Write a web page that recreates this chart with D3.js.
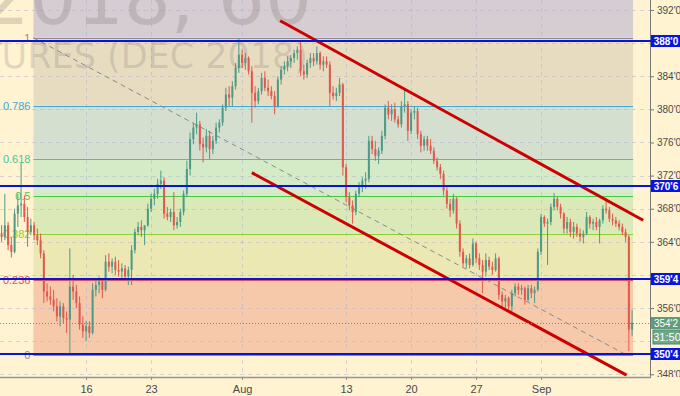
<!DOCTYPE html>
<html>
<head>
<meta charset="utf-8">
<script src="https://cdn.jsdelivr.net/npm/d3@7"></script>
<style>
  body { margin: 0; background: #fff3d2; }
  svg { display: block; font-family: "Liberation Sans", Arial, sans-serif; }
</style>
</head>
<body>
<svg id="chart"></svg>
<script>
// bars, 4 per trading day: [open, high, low, close]
const bars = [
  [365.0,366.0,364.0,364.6],[364.6,369.8,364.2,366.0],[366.0,366.4,363.0,363.6],[363.6,364.6,362.1,362.8],
  [362.8,368.0,362.6,367.4],[367.4,369.8,365.8,368.4],[368.4,373.5,367.0,368.6],[368.6,369.6,366.4,367.0],
  [367.0,368.2,363.4,365.2],[365.2,366.8,364.8,366.0],[366.0,366.4,364.2,364.8],[364.8,365.6,363.6,364.2],
  [364.2,365.0,362.0,362.6],[362.6,363.0,356.6,358.0],[358.0,359.0,356.8,357.4],[357.4,358.6,356.4,357.0],
  [357.0,358.2,355.6,356.2],[356.2,357.2,354.4,355.0],[355.0,356.8,353.8,356.2],[356.2,356.6,354.2,354.8],
  [354.8,355.6,353.0,354.6],[354.6,363.2,350.3,358.6],[358.6,360.0,357.0,358.0],[358.0,358.8,356.0,356.6],
  [356.6,357.4,353.4,354.0],[354.0,355.0,352.4,353.2],[353.2,354.4,352.0,353.8],[353.8,354.4,352.4,353.0],
  [353.0,359.0,352.8,358.2],[358.2,359.6,357.4,358.8],[358.8,359.8,357.8,359.2],[359.2,359.6,357.2,358.2],
  [358.2,362.4,358.0,361.6],[361.6,362.6,360.4,361.0],[361.0,362.0,360.2,361.6],[361.6,362.2,360.0,360.6],
  [360.6,361.8,359.8,360.4],[360.4,361.4,359.6,360.8],[360.8,361.2,359.4,359.8],[359.8,361.0,358.8,360.6],
  [360.6,363.6,358.8,363.0],[363.0,365.6,362.6,365.2],[365.2,366.4,364.8,365.8],[365.8,366.6,364.6,365.4],
  [365.4,366.0,363.6,366.0],[366.0,368.6,365.8,368.0],[368.0,369.8,367.6,369.2],[369.2,370.4,368.4,369.8],
  [369.8,371.6,369.2,371.0],[371.0,372.6,370.4,371.4],[371.4,371.8,366.8,367.4],[367.4,368.2,366.6,367.0],
  [367.0,368.0,366.4,367.6],[367.6,370.0,365.4,366.0],[366.0,367.0,365.6,366.4],[366.4,368.0,365.8,367.6],
  [367.6,370.2,367.2,369.8],[369.8,373.8,369.4,372.8],[372.8,377.2,372.0,376.4],[376.4,378.4,375.8,377.8],
  [377.8,379.6,377.0,378.2],[378.2,378.6,375.0,375.8],[375.8,376.6,373.6,375.4],[375.4,377.6,374.8,376.8],
  [376.8,377.4,374.0,375.2],[375.2,376.8,374.6,376.2],[376.2,378.4,375.8,377.8],[377.8,378.8,377.2,378.4],
  [378.4,380.6,378.0,380.2],[380.2,382.6,379.8,381.8],[381.8,382.8,380.4,381.4],[381.4,383.4,380.4,382.8],
  [382.8,385.6,382.4,385.0],[385.0,388.6,384.4,386.6],[386.6,387.2,385.0,385.6],[385.6,386.8,384.8,386.2],
  [386.2,386.4,384.2,384.6],[384.6,385.2,378.4,382.0],[382.0,382.8,380.2,381.0],[381.0,382.6,380.6,382.2],
  [382.2,384.4,381.8,383.8],[383.8,384.6,382.2,382.6],[382.6,383.6,381.6,382.2],[382.2,382.8,381.2,381.6],
  [381.6,382.2,379.4,380.4],[380.4,384.0,380.2,383.6],[383.6,385.2,383.0,384.8],[384.8,385.8,384.2,385.2],
  [385.2,386.4,384.6,385.8],[385.8,386.6,385.0,386.2],[386.2,387.2,385.6,386.8],[386.8,387.6,386.0,387.2],
  [387.2,388.2,384.0,384.6],[384.6,385.4,383.6,384.2],[384.2,386.0,383.8,385.6],[385.6,386.8,385.0,386.2],
  [386.2,386.8,385.2,385.8],[385.8,387.6,385.4,386.8],[386.8,387.0,384.8,385.4],[385.4,386.4,384.6,385.8],
  [385.8,386.4,385.0,385.4],[385.4,385.8,380.4,382.0],[382.0,382.8,381.2,381.6],[381.6,382.6,381.0,382.0],
  [382.0,383.8,381.6,383.0],[383.0,383.2,372.0,373.0],[373.0,373.4,368.8,369.4],[369.4,370.0,367.8,368.4],
  [368.4,369.0,366.2,367.6],[367.6,370.2,367.2,369.8],[369.8,371.2,369.4,370.6],[370.6,371.8,370.0,371.4],
  [371.4,372.4,370.4,371.6],[371.6,376.8,371.2,376.2],[376.2,376.8,374.6,375.2],[375.2,376.2,373.8,374.4],
  [374.4,375.4,373.4,375.0],[375.0,377.4,374.6,376.8],[376.8,380.6,376.4,380.2],[380.2,381.0,378.8,379.4],
  [379.4,380.6,378.6,380.0],[380.0,380.8,378.4,378.8],[378.8,379.2,377.8,378.2],[378.2,381.0,377.8,380.4],
  [380.4,382.4,379.6,380.6],[380.6,381.0,376.2,377.4],[377.4,380.0,377.0,379.6],[379.6,380.4,378.8,379.8],
  [379.8,380.2,376.4,377.0],[377.0,377.4,374.8,375.6],[375.6,376.8,375.0,376.4],[376.4,376.8,375.0,375.6],
  [375.6,376.4,374.6,375.0],[375.0,375.4,373.4,373.8],[373.8,374.2,372.6,373.0],[373.0,373.4,371.6,372.2],
  [372.2,372.6,369.6,370.2],[370.2,370.6,368.0,368.6],[368.6,369.2,367.0,367.8],[367.8,369.8,367.4,369.2],
  [369.2,369.4,365.6,366.2],[366.2,366.6,362.2,362.8],[362.8,363.2,361.0,361.4],[361.4,362.4,360.8,362.0],
  [362.0,362.6,360.8,361.2],[361.2,364.4,361.0,363.8],[363.8,364.0,361.4,362.0],[362.0,362.6,360.6,361.2],
  [361.2,361.8,357.8,360.4],[360.4,362.6,359.8,361.8],[361.8,362.2,360.6,361.0],[361.0,361.6,360.0,360.6],
  [360.6,362.6,360.4,362.0],[362.0,362.2,357.0,357.6],[357.6,358.0,356.2,356.8],[356.8,357.6,356.0,357.2],
  [357.2,357.4,355.6,356.2],[356.2,358.2,355.6,357.8],[357.8,359.0,357.4,358.6],[358.6,359.0,357.6,358.2],
  [358.2,358.8,357.6,358.4],[358.4,358.6,356.4,357.0],[357.0,358.8,356.8,358.4],[358.4,358.8,357.2,357.8],
  [357.8,358.6,356.6,358.2],[358.2,363.2,358.0,362.8],[362.8,367.4,362.4,367.0],[367.0,367.2,365.8,366.2],
  [366.2,366.8,361.2,366.4],[366.4,368.6,366.0,368.2],[368.2,369.9,367.8,369.2],[369.2,369.4,367.8,368.2],
  [368.2,368.6,366.8,367.4],[367.4,367.6,365.0,365.6],[365.6,367.0,365.0,366.4],[366.4,366.8,364.6,365.2],
  [365.2,366.4,364.4,365.8],[365.8,366.2,364.6,365.0],[365.0,365.6,364.0,364.6],[364.6,365.4,363.8,365.0],
  [365.0,367.6,364.8,367.0],[367.0,367.2,365.6,366.2],[366.2,366.8,365.4,366.4],[366.4,367.0,365.4,365.8],
  [365.8,366.8,363.8,366.6],[366.6,368.4,366.2,368.0],[368.0,369.3,367.4,367.8],[367.8,368.2,366.4,366.8],
  [366.8,367.4,366.0,366.6],[366.6,367.0,365.8,366.2],[366.2,366.6,365.4,365.8],[365.8,366.2,364.8,365.2],
  [365.2,365.6,364.0,364.6],[364.6,364.8,350.8,353.4],[353.4,355.8,352.6,354.25]
];

// date ticks, as bar indices
const dayTicks = [26, 46, 74, 106, 126, 146, 166];
const dayLabels = ["16", "23", "Aug", "13", "20", "27", "Sep"];
const priceTicks = [348, 352, 356, 360, 364, 368, 372, 376, 380, 384, 388, 392];

// fibonacci retracement
const fibRatios = [0, 0.236, 0.382, 0.5, 0.618, 0.786, 1, 1.618];
const fibLabels = ["0", "0.236", "0.382", "0.5", "0.618", "0.786", "1"];
const fibLow = 350.33, fibHigh = 388.65;
const fibBars = [9.8, 194.3];

// horizontal levels
const keyLevels = [388.2, 370.75, 359.5, 350.5];
const keyLabels = ["388'0", "370'6", "359'4", "350'4"];

// channel, [bar, price]
const channelTop = [[85.7, 390.7], [197.4, 366.6]];
const channelBottom = [[77.0, 372.35], [192.3, 347.9]];

const lastPrice = 354.25, lastLabel = "354'2", timeLeft = "31:50";

const zoneColors = ["#f5c9aa", "#ebe8b4", "#dbe9b8", "#d5eac6", "#d5dfcf", "#e7dcc0", "#d6cdd2"];
const lineColors = ["#8c8c8c", "#e05252", "#8ccf3c", "#48c848", "#4cc39a", "#3ea8d6", "#8c8c8c"];

const width = 680, height = 396;
const paneW = 650, paneH = 377;

const x = d3.scaleLinear().domain([0, bars.length - 1]).range([1.6, 632.1]);
const y = d3.scaleLinear().domain([348, 392]).range([374.3, 10]);
const fibPrice = r => fibLow + r * (fibHigh - fibLow);

const svg = d3.select("#chart").attr("width", width).attr("height", height);

svg.append("rect").attr("width", width).attr("height", height).attr("fill", "#fff3d2");

svg.append("clipPath").attr("id", "pane")
  .append("rect").attr("width", paneW).attr("height", paneH);
svg.append("clipPath").attr("id", "axisclip")
  .append("rect").attr("x", paneW).attr("width", width - paneW).attr("height", paneH);

const pane = svg.append("g").attr("clip-path", "url(#pane)");

// fib zones
const fx0 = x(fibBars[0]), fx1 = x(fibBars[1]);
for (let i = 0; i < fibRatios.length - 1; i++) {
  const top = i === fibRatios.length - 2 ? 0 : y(fibPrice(fibRatios[i + 1]));
  pane.append("rect")
    .attr("x", fx0).attr("width", fx1 - fx0)
    .attr("y", top).attr("height", y(fibPrice(fibRatios[i])) - top)
    .attr("fill", zoneColors[i]);
}

// grid
pane.append("g").selectAll("line").data(priceTicks).join("line")
  .attr("x1", 0).attr("x2", paneW)
  .attr("y1", d => Math.round(y(d)) + 0.5).attr("y2", d => Math.round(y(d)) + 0.5)
  .attr("stroke", "#b4b4d2").attr("stroke-opacity", 0.55).attr("stroke-dasharray", "4,4");
pane.append("g").selectAll("line").data(dayTicks).join("line")
  .attr("x1", d => Math.round(x(d)) + 0.5).attr("x2", d => Math.round(x(d)) + 0.5)
  .attr("y1", 0).attr("y2", paneH)
  .attr("stroke", "#b4b4d2").attr("stroke-opacity", 0.55).attr("stroke-dasharray", "4,4");

// watermark (symbol name, cut by the pane edges)
pane.append("text").attr("x", 312).attr("y", 24).attr("text-anchor", "end")
  .attr("font-family", "DejaVu Sans").attr("font-size", 74)
  .attr("fill", "#7a7070").attr("fill-opacity", 0.25).text("ZCZ2018, 60");
pane.append("text").attr("x", 308).attr("y", 68).attr("text-anchor", "end")
  .attr("font-family", "DejaVu Sans").attr("font-size", 35)
  .attr("fill", "#7a7070").attr("fill-opacity", 0.22).text("CORN FUTURES (DEC 2018)");

// fib level lines and labels
fibLabels.forEach((lab, i) => {
  const yy = Math.round(y(fibPrice(fibRatios[i]))) + 0.5;
  pane.append("line").attr("x1", fx0).attr("x2", fx1).attr("y1", yy).attr("y2", yy)
    .attr("stroke", lineColors[i]).attr("stroke-width", 1.2);
  pane.append("text").attr("x", fx0 - 3).attr("y", yy).attr("dy", "0.35em")
    .attr("text-anchor", "end").attr("font-size", 11)
    .attr("fill", lineColors[i]).text(lab);
});

// fib trend line
pane.append("line")
  .attr("x1", fx0).attr("y1", y(fibHigh))
  .attr("x2", x(192.3)).attr("y2", y(fibLow))
  .attr("stroke", "#8a8a8a").attr("stroke-dasharray", "5,4");

// candles
const candle = pane.append("g").selectAll("g").data(bars).join("g");
const colorOf = d => d[3] >= d[0] ? "#4f9a86" : "#e0584e";
candle.append("line")
  .attr("x1", (d, i) => x(i)).attr("x2", (d, i) => x(i))
  .attr("y1", d => y(d[1])).attr("y2", d => y(d[2]))
  .attr("stroke", colorOf).attr("stroke-width", 1);
candle.append("rect")
  .attr("x", (d, i) => x(i) - 1).attr("width", 2)
  .attr("y", d => y(Math.max(d[0], d[3])))
  .attr("height", d => Math.max(1, Math.abs(y(d[0]) - y(d[3]))))
  .attr("fill", colorOf);

// channel
[channelTop, channelBottom].forEach(c => {
  pane.append("line")
    .attr("x1", x(c[0][0])).attr("y1", y(c[0][1]))
    .attr("x2", x(c[1][0])).attr("y2", y(c[1][1]))
    .attr("stroke", "#cc0000").attr("stroke-width", 3);
});

// last price dotted line
pane.append("line").attr("x1", 0).attr("x2", paneW)
  .attr("y1", Math.round(y(lastPrice)) + 0.5).attr("y2", Math.round(y(lastPrice)) + 0.5)
  .attr("stroke", "#5f9c7a").attr("stroke-dasharray", "1,2");

// key horizontal levels
keyLevels.forEach(p => {
  const yy = Math.round(y(p));
  pane.append("line").attr("x1", 0).attr("x2", paneW).attr("y1", yy).attr("y2", yy)
    .attr("stroke", "#0a14d8").attr("stroke-width", 2);
});

// right axis, labels under a level box or the price boxes are hidden
const ly = Math.round(y(lastPrice));
const hidden = d => keyLevels.some(p => Math.abs(y(p) - y(d)) < 5)
  || (y(d) > ly - 8 && y(d) < ly + 24);
const ra = svg.append("g").attr("clip-path", "url(#axisclip)")
  .append("g").attr("transform", `translate(${paneW},0)`)
  .call(d3.axisRight(y).tickValues(priceTicks.filter(d => !hidden(d)))
    .tickFormat(d => d + "'0").tickSize(4).tickPadding(3));
ra.select(".domain").remove();
ra.selectAll("text").attr("font-size", 10).attr("fill", "#4a4a4a").attr("font-family", "Liberation Sans, Arial");
ra.selectAll("line").attr("stroke", "#777");

svg.append("line").attr("x1", paneW + 0.5).attr("x2", paneW + 0.5).attr("y1", 0).attr("y2", paneH)
  .attr("stroke", "#777");

// key level labels
keyLevels.forEach((p, i) => {
  const yy = Math.round(y(p));
  svg.append("line").attr("x1", paneW).attr("x2", paneW + 5).attr("y1", yy).attr("y2", yy)
    .attr("stroke", "#0a14d8").attr("stroke-width", 2);
  svg.append("rect").attr("x", paneW + 1).attr("y", yy - 6).attr("width", width - paneW - 1).attr("height", 12)
    .attr("fill", "#0a14e0");
  svg.append("text").attr("x", paneW + 16).attr("y", yy).attr("dy", "0.35em")
    .attr("text-anchor", "middle").attr("font-size", 10).attr("font-weight", "bold")
    .attr("fill", "#fff").text(keyLabels[i]);
});

// last price label and countdown
svg.append("rect").attr("x", paneW + 1).attr("y", ly - 6).attr("width", width - paneW - 1).attr("height", 12)
  .attr("fill", "#5f9c7a");
svg.append("text").attr("x", paneW + 16).attr("y", ly).attr("dy", "0.35em")
  .attr("text-anchor", "middle").attr("font-size", 10).attr("fill", "#fff").text(lastLabel);
svg.append("rect").attr("x", paneW + 3).attr("y", ly + 7).attr("width", width - paneW - 3).attr("height", 14)
  .attr("fill", "#6da888").attr("stroke", "#4f8a6a");
svg.append("text").attr("x", paneW + 17).attr("y", ly + 14).attr("dy", "0.35em")
  .attr("text-anchor", "middle").attr("font-size", 11).attr("fill", "#fff").text(timeLeft);

// bottom axis
const ba = svg.append("g").attr("transform", `translate(0,${paneH})`)
  .call(d3.axisBottom(x).tickValues(dayTicks).tickFormat((d, i) => dayLabels[i]).tickSize(3).tickPadding(5));
ba.select(".domain").remove();
ba.selectAll("text").attr("font-size", 11).attr("fill", "#4a4a4a").attr("font-family", "Liberation Sans, Arial");
ba.selectAll("line").attr("stroke", "#888");
svg.append("line").attr("x1", 0).attr("x2", paneW + 1).attr("y1", paneH + 0.5).attr("y2", paneH + 0.5)
  .attr("stroke", "#9a958c").attr("stroke-width", 1.5);
</script>
</body>
</html>
